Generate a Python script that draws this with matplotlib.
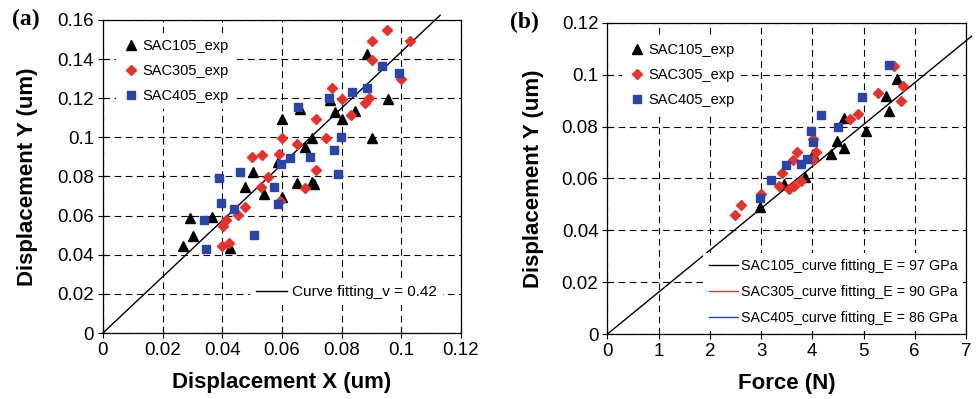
import matplotlib.pyplot as plt
from matplotlib.lines import Line2D

# panel (a) data: displacement X vs displacement Y (um)
a105_x = [0.0269, 0.0303, 0.0292, 0.0364, 0.0426, 0.0477, 0.0502, 0.0541, 0.0600, 0.0588, 0.0600,
          0.0649, 0.0660, 0.0678, 0.0700, 0.0702, 0.0707, 0.0760, 0.0779, 0.0802, 0.0845, 0.0884,
          0.0903, 0.0954]
a105_y = [0.0446, 0.0497, 0.0586, 0.0593, 0.0437, 0.0746, 0.0825, 0.0712, 0.1093, 0.0873, 0.0695,
          0.0768, 0.1144, 0.0953, 0.0995, 0.0770, 0.0760, 0.1190, 0.1132, 0.1095, 0.1137, 0.1427,
          0.0995, 0.1195]
a305_x = [0.0401, 0.0412, 0.0400, 0.0422, 0.0451, 0.0475, 0.0501, 0.0534, 0.0531, 0.0553, 0.0589,
          0.0600, 0.0593, 0.0649, 0.0678, 0.0713, 0.0713, 0.0749, 0.0769, 0.0802, 0.0832, 0.0880,
          0.0892, 0.0903, 0.0903, 0.0951, 0.0999, 0.1029]
a305_y = [0.0547, 0.0576, 0.0446, 0.0458, 0.0605, 0.0642, 0.0898, 0.0908, 0.0746, 0.0797, 0.0915,
          0.0997, 0.0673, 0.0966, 0.0742, 0.0831, 0.1093, 0.0995, 0.1254, 0.1198, 0.1112, 0.1175,
          0.1203, 0.1398, 0.1495, 0.1551, 0.1298, 0.1495]
a405_x = [0.0388, 0.0397, 0.0347, 0.0340, 0.0438, 0.0459, 0.0507, 0.0573, 0.0587, 0.0597, 0.0627,
          0.0654, 0.0694, 0.0758, 0.0775, 0.0787, 0.0798, 0.0836, 0.0884, 0.0936, 0.0992]
a405_y = [0.0790, 0.0663, 0.0431, 0.0576, 0.0634, 0.0824, 0.0502, 0.0746, 0.0661, 0.0864, 0.0893,
          0.1153, 0.0898, 0.1203, 0.0937, 0.0814, 0.1000, 0.1232, 0.1254, 0.1366, 0.1330]
fit_a_x = [0.0, 0.113]
fit_a_y = [0.0, 0.1624]

# panel (b) data: force (N) vs displacement Y (um)
b105_x = [2.98, 3.45, 3.86, 4.01, 4.36, 4.48, 4.61, 4.61, 5.05, 5.44, 5.49, 5.65]
b105_y = [0.0490, 0.0579, 0.0605, 0.0695, 0.0696, 0.0743, 0.0718, 0.0833, 0.0782, 0.0917, 0.0862, 0.0985]
b305_x = [2.50, 2.61, 3.00, 3.34, 3.40, 3.55, 3.65, 3.63, 3.71, 3.77, 4.01, 4.01, 4.07, 4.73, 4.89,
          5.29, 5.59, 5.73, 5.78]
b305_y = [0.0460, 0.0498, 0.0541, 0.0570, 0.0621, 0.0561, 0.0570, 0.0673, 0.0701, 0.0592, 0.0670,
          0.0752, 0.0701, 0.0828, 0.0850, 0.0930, 0.1035, 0.0900, 0.0958]
b405_x = [2.98, 3.19, 3.49, 3.77, 3.89, 3.98, 4.02, 4.17, 4.50, 4.98, 5.50]
b405_y = [0.0523, 0.0596, 0.0651, 0.0655, 0.0675, 0.0782, 0.0740, 0.0845, 0.0799, 0.0913, 0.1037]
fit_b_x = [0.0, 7.11]
fit_b_y = [0.0, 0.1149]

plt.rcParams['font.family'] = ['Liberation Sans', 'DejaVu Sans']

fig = plt.figure(figsize=(9.76, 3.99), dpi=100)
ax1 = fig.add_axes([0.1055, 0.1654, 0.3668, 0.7845])
ax2 = fig.add_axes([0.6224, 0.1629, 0.3673, 0.7795])

red = '#e8312a'
blue = '#2a44a8'

def style(ax):
    ax.grid(True, color='black', linestyle=(0, (6, 4)), linewidth=0.8)
    ax.tick_params(direction='inout', length=7, width=0.8, labelsize=13.5, pad=3)
    for s in ax.spines.values():
        s.set_linewidth(0.9)
    ax.set_axisbelow(True)

# (a)
style(ax1)
ax1.plot(fit_a_x, fit_a_y, color='black', lw=1.0, clip_on=False, zorder=2)
h1, = ax1.plot(a105_x, a105_y, '^', color='black', ms=7, ls='none', label='SAC105_exp', zorder=3)
h2, = ax1.plot(a305_x, a305_y, 'D', color=red, ms=5.3, ls='none', label='SAC305_exp', zorder=3)
h3, = ax1.plot(a405_x, a405_y, 's', color=blue, ms=5.8, ls='none', label='SAC405_exp', zorder=3)
ax1.set_xlim(0, 0.12)
ax1.set_ylim(0, 0.16)
ax1.set_xticks([0, 0.02, 0.04, 0.06, 0.08, 0.1, 0.12])
ax1.set_xticklabels(['0', '0.02', '0.04', '0.06', '0.08', '0.1', '0.12'])
ax1.set_yticks([0, 0.02, 0.04, 0.06, 0.08, 0.1, 0.12, 0.14, 0.16])
ax1.set_yticklabels(['0', '0.02', '0.04', '0.06', '0.08', '0.1', '0.12', '0.14', '0.16'])
ax1.set_xlabel('Displacement X (um)', fontsize=16, fontweight='bold', va='center')
ax1.set_ylabel('Displacement Y (um)', fontsize=16, fontweight='bold', va='center')
ax1.xaxis.set_label_coords(0.5, -0.157)
ax1.yaxis.set_label_coords(-0.212, 0.5)
leg = ax1.legend(handles=[h1, h2, h3], loc='upper left', fontsize=10.5, frameon=True,
                 facecolor='white', edgecolor='none', framealpha=1, handletextpad=0.2,
                 handlelength=1.2, borderaxespad=0.9, labelspacing=0.75)
ax1.add_artist(leg)
ax1.legend(handles=[Line2D([], [], color='black', lw=1)], labels=['Curve fitting_v = 0.42'],
           loc='lower right', fontsize=11, frameon=True, facecolor='white', edgecolor='none',
           framealpha=1, handlelength=2.0, handletextpad=0.3, bbox_to_anchor=(0.97, 0.065))

# (b)
style(ax2)
ax2.plot(fit_b_x, fit_b_y, color='black', lw=1.0, clip_on=False, zorder=2)
g1, = ax2.plot(b105_x, b105_y, '^', color='black', ms=7, ls='none', label='SAC105_exp', zorder=3)
g2, = ax2.plot(b305_x, b305_y, 'D', color=red, ms=5.3, ls='none', label='SAC305_exp', zorder=3)
g3, = ax2.plot(b405_x, b405_y, 's', color=blue, ms=5.8, ls='none', label='SAC405_exp', zorder=3)
ax2.set_xlim(0, 7)
ax2.set_ylim(0, 0.12)
ax2.set_xticks(range(8))
ax2.set_yticks([0, 0.02, 0.04, 0.06, 0.08, 0.1, 0.12])
ax2.set_yticklabels(['0', '0.02', '0.04', '0.06', '0.08', '0.1', '0.12'])
ax2.set_xlabel('Force (N)', fontsize=16, fontweight='bold', va='center')
ax2.set_ylabel('Displacement Y (um)', fontsize=16, fontweight='bold', va='center')
ax2.xaxis.set_label_coords(0.5, -0.158)
ax2.yaxis.set_label_coords(-0.2075, 0.5)
leg2 = ax2.legend(handles=[g1, g2, g3], loc='upper left', fontsize=10.5, frameon=True,
                  facecolor='white', edgecolor='none', framealpha=1, handletextpad=0.2,
                  handlelength=1.2, borderaxespad=1.0, labelspacing=0.75)
ax2.add_artist(leg2)
fit_handles = [Line2D([], [], color='black', lw=1), Line2D([], [], color=red, lw=1),
               Line2D([], [], color=blue, lw=1)]
fit_labels = ['SAC105_curve fitting_E = 97 GPa', 'SAC305_curve fitting_E = 90 GPa',
              'SAC405_curve fitting_E = 86 GPa']
ax2.legend(handles=fit_handles, labels=fit_labels, loc='lower right', fontsize=10.3,
           frameon=True, facecolor='white', edgecolor='none', framealpha=1,
           handlelength=2.0, handletextpad=0.2, labelspacing=0.85, borderaxespad=0.2)

fig.text(0.012, 0.95, '(a)', fontsize=17, fontweight='bold', family='Liberation Serif', va='center')
fig.text(0.523, 0.943, '(b)', fontsize=17, fontweight='bold', family='Liberation Serif', va='center')

fig.savefig('out.png', dpi=100)
